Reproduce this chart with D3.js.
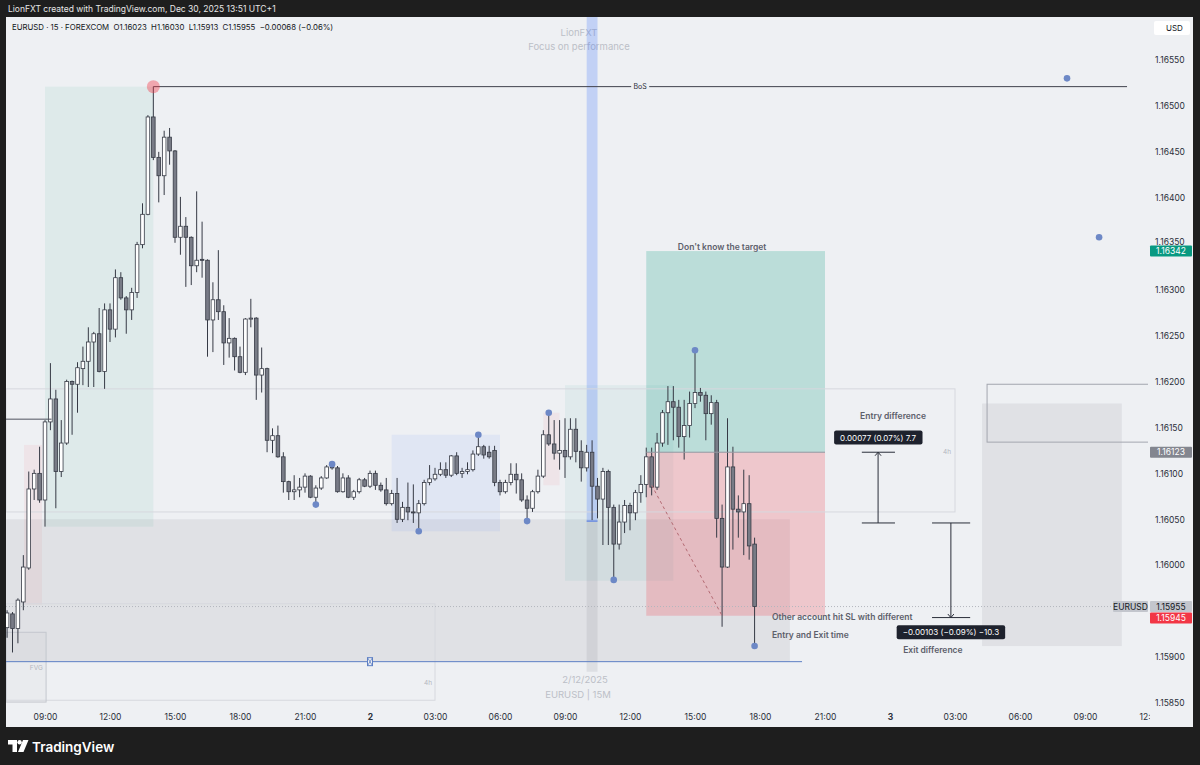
<!DOCTYPE html>
<html>
<head>
<meta charset="utf-8">
<script src="https://cdn.jsdelivr.net/npm/d3@7"></script>
<style>
  html, body { margin: 0; padding: 0; background: #1e1e1e; }
  svg { display: block; font-family: Inter, "Noto Sans", sans-serif; }
</style>
</head>
<body>
<svg id="chart" width="1200" height="765"></svg>
<script>
// EURUSD 15m, Dec 1 07:15 -> Dec 2 17:45 (UTC+1 chart time)
const firstBar = Date.UTC(2025, 11, 1, 7, 15);
const barMinutes = 15;

const opens = [1.15932,1.15947,1.15931,1.15960,1.15997,1.16083,1.16100,1.16071,1.16156,1.16181,
  1.16102,1.16133,1.16200,1.16197,1.16214,1.16222,1.16243,1.16252,1.16211,1.16278,
  1.16257,1.16313,1.16291,1.16278,1.16297,1.16349,1.16382,1.16488,1.16444,1.16424,
  1.16466,1.16451,1.16357,1.16369,1.16357,1.16326,1.16333,1.16332,1.16267,1.16289,
  1.16276,1.16242,1.16247,1.16227,1.16210,1.16268,1.16269,1.16207,1.16214,1.16136,
  1.16141,1.16118,1.16091,1.16080,1.16082,1.16085,1.16097,1.16074,1.16084,1.16095,
  1.16107,1.16106,1.16080,1.16095,1.16074,1.16080,1.16093,1.16086,1.16100,1.16087,
  1.16082,1.16067,1.16078,1.16050,1.16063,1.16058,1.16057,1.16067,1.16090,1.16094,
  1.16099,1.16104,1.16098,1.16119,1.16100,1.16102,1.16104,1.16121,1.16129,1.16123,
  1.16125,1.16090,1.16080,1.16090,1.16099,1.16093,1.16071,1.16062,1.16080,1.16097,
  1.16142,1.16132,1.16122,1.16125,1.16118,1.16148,1.16124,1.16106,1.16123,1.16086,
  1.16072,1.16102,1.16063,1.16023,1.16047,1.16065,1.16057,1.16079,1.16088,1.16118,
  1.16085,1.16133,1.16166,1.16178,1.16172,1.16140,1.16152,1.16176,1.16188,1.16185,
  1.16165,1.16177,1.16051,1.15998,1.16107,1.16061,1.16058,1.16067,1.16023];
const highs = [1.15951,1.15949,1.15964,1.16011,1.16102,1.16104,1.16129,1.16158,1.16220,1.16191,
  1.16158,1.16202,1.16201,1.16221,1.16238,1.16259,1.16254,1.16280,1.16285,1.16285,
  1.16322,1.16319,1.16293,1.16302,1.16352,1.16394,1.16490,1.16521,1.16450,1.16473,
  1.16476,1.16452,1.16401,1.16379,1.16358,1.16407,1.16374,1.16333,1.16308,1.16343,
  1.16283,1.16269,1.16248,1.16238,1.16269,1.16290,1.16270,1.16237,1.16215,1.16149,
  1.16152,1.16123,1.16092,1.16098,1.16095,1.16100,1.16098,1.16087,1.16097,1.16109,
  1.16111,1.16108,1.16100,1.16098,1.16082,1.16095,1.16095,1.16103,1.16103,1.16090,
  1.16095,1.16082,1.16095,1.16069,1.16090,1.16088,1.16071,1.16093,1.16109,1.16106,
  1.16112,1.16112,1.16120,1.16123,1.16106,1.16112,1.16125,1.16142,1.16131,1.16130,
  1.16130,1.16093,1.16093,1.16111,1.16111,1.16100,1.16076,1.16082,1.16104,1.16147,
  1.16166,1.16158,1.16158,1.16160,1.16160,1.16160,1.16136,1.16131,1.16136,1.16095,
  1.16106,1.16104,1.16066,1.16066,1.16071,1.16068,1.16082,1.16098,1.16128,1.16128,
  1.16144,1.16169,1.16195,1.16195,1.16180,1.16180,1.16189,1.16234,1.16193,1.16189,
  1.16185,1.16180,1.16066,1.16160,1.16129,1.16076,1.16104,1.16098,1.16030];
const lows = [1.15921,1.15905,1.15915,1.15951,1.15995,1.16071,1.16068,1.16042,1.16147,1.16062,
  1.16096,1.16131,1.16142,1.16166,1.16196,1.16194,1.16194,1.16210,1.16192,1.16243,
  1.16248,1.16289,1.16252,1.16267,1.16291,1.16345,1.16381,1.16441,1.16395,1.16403,
  1.16436,1.16351,1.16338,1.16303,1.16305,1.16319,1.16313,1.16227,1.16232,1.16267,
  1.16218,1.16226,1.16212,1.16209,1.16207,1.16259,1.16180,1.16188,1.16123,1.16122,
  1.16117,1.16079,1.16071,1.16071,1.16074,1.16079,1.16073,1.16066,1.16082,1.16094,
  1.16104,1.16079,1.16079,1.16073,1.16071,1.16078,1.16085,1.16084,1.16082,1.16080,
  1.16065,1.16065,1.16046,1.16047,1.16049,1.16046,1.16037,1.16065,1.16087,1.16092,
  1.16097,1.16095,1.16096,1.16098,1.16095,1.16099,1.16102,1.16119,1.16116,1.16116,
  1.16086,1.16076,1.16078,1.16087,1.16078,1.16069,1.16048,1.16058,1.16078,1.16095,
  1.16130,1.16115,1.16104,1.16095,1.16115,1.16112,1.16091,1.16102,1.16049,1.16051,
  1.16022,1.16022,1.15984,1.16017,1.16035,1.16038,1.16049,1.16068,1.16074,1.16076,
  1.16082,1.16129,1.16131,1.16136,1.16128,1.16115,1.16139,1.16171,1.16178,1.16136,
  1.16153,1.16030,1.15933,1.15997,1.16017,1.16030,1.16011,1.16006,1.15913];
const closes = [1.15948,1.15931,1.15962,1.15998,1.16083,1.16100,1.16071,1.16156,1.16181,1.16102,
  1.16133,1.16200,1.16197,1.16215,1.16222,1.16243,1.16252,1.16211,1.16278,1.16257,
  1.16313,1.16291,1.16278,1.16297,1.16349,1.16382,1.16488,1.16444,1.16424,1.16466,
  1.16451,1.16357,1.16369,1.16357,1.16326,1.16332,1.16332,1.16267,1.16289,1.16276,
  1.16242,1.16247,1.16227,1.16210,1.16268,1.16269,1.16207,1.16214,1.16136,1.16141,
  1.16118,1.16091,1.16080,1.16082,1.16085,1.16097,1.16074,1.16084,1.16095,1.16107,
  1.16106,1.16080,1.16095,1.16074,1.16080,1.16093,1.16086,1.16100,1.16087,1.16082,
  1.16067,1.16078,1.16050,1.16063,1.16058,1.16057,1.16067,1.16090,1.16094,1.16099,
  1.16104,1.16098,1.16119,1.16100,1.16102,1.16104,1.16121,1.16129,1.16120,1.16118,
  1.16090,1.16080,1.16090,1.16099,1.16093,1.16071,1.16062,1.16080,1.16097,1.16142,
  1.16132,1.16122,1.16125,1.16118,1.16148,1.16124,1.16106,1.16123,1.16086,1.16072,
  1.16102,1.16063,1.16023,1.16047,1.16065,1.16057,1.16079,1.16088,1.16118,1.16085,
  1.16133,1.16166,1.16178,1.16172,1.16140,1.16152,1.16176,1.16188,1.16185,1.16165,
  1.16177,1.16051,1.15998,1.16107,1.16061,1.16058,1.16067,1.16021,1.15955];

const priceTicks = [1.15850,1.15900,1.16000,1.16050,1.16100,1.16150,1.16200,1.16250,
  1.16300,1.16350,1.16400,1.16450,1.16500,1.16550];
// hours counted from Dec 1 00:00
const timeTicks = [9,12,15,18,21,24,27,30,33,36,39,42,45,48,51,54,57,60];

// swing markers [hour, price]
const swingDots = [[21.5,1.16066],[22.25,1.16110],[26.25,1.16037],[29,1.16142],[31.25,1.16048],
  [32.25,1.16166],[35.25,1.15984],[39,1.16234],[41.75,1.15912],[56.17,1.16530],[57.65,1.16357]];

const bosPrice = 1.16521;
const entryPrice = 1.16123, targetPrice = 1.16342, stopPrice = 1.15945;
const otherEntry = 1.16046, otherExit = 1.15943;
const hLinePrice = 1.15895;

const W = 1200, H = 765;
const plot = { left: 6, top: 17, right: 1148, bottom: 707 };
const bg = "#eef0f3";

const svg = d3.select("#chart");
const defs = svg.append("defs");
const hr = h => new Date(Date.UTC(2025, 11, 1) + h * 36e5);

const x = d3.scaleUtc().domain([hr(9), hr(57)]).range([45, 1085]);
const y = d3.scaleLinear().domain([1.15850, 1.16550]).range([703, 60]);
const xh = h => x(hr(h));

const bars = opens.map((o, i) => ({
  t: new Date(firstBar + i * barMinutes * 6e4),
  o, h: highs[i], l: lows[i], c: closes[i]
}));

// frame
svg.append("rect").attr("width", W).attr("height", H).attr("fill", "#1e1e1e");
svg.append("rect").attr("x", 6).attr("y", 17).attr("width", 1187).attr("height", 710).attr("fill", bg);

svg.append("text").attr("x", 8).attr("y", 12).attr("fill", "#e6e6e6").attr("font-size", 8.5)
  .text("LionFXT created with TradingView.com, Dec 30, 2025 13:51 UTC+1");

defs.append("clipPath").attr("id", "plotClip")
  .append("rect").attr("x", plot.left).attr("y", plot.top)
  .attr("width", plot.right - plot.left).attr("height", plot.bottom - plot.top);

const g = svg.append("g").attr("clip-path", "url(#plotClip)");

// watermark
const wm = g.append("g").attr("fill", "#bcbfc7").attr("font-size", 9.5).attr("text-anchor", "middle");
wm.append("text").attr("x", 579).attr("y", 36).text("LionFXT");
wm.append("text").attr("x", 579).attr("y", 50).text("Focus on performance");
wm.append("text").attr("x", 585).attr("y", 683).text("2/12/2025");
wm.append("text").attr("x", 578).attr("y", 698).text("EURUSD | 15M");

// filled zones [h0, h1, pTop, pBottom, fill]
const zones = [
  [9, 14, bosPrice, 1.16042, "rgba(8,153,129,0.07)"],
  [8.03, 8.86, 1.16131, 1.15957, "rgba(242,54,69,0.06)"],
  [7.2, 43.38, 1.16050, hLinePrice, "rgba(120,123,134,0.12)"],
  [25, 30, 1.16142, 1.16037, "rgba(41,98,255,0.07)"],
  [32, 32.75, 1.16166, 1.16087, "rgba(242,54,69,0.06)"],
  [33, 38, 1.16196, 1.15983, "rgba(8,153,129,0.06)"],
  [52.25, 58.7, 1.16176, 1.15912, "rgba(120,123,134,0.12)"],
  [36.75, 45, targetPrice, entryPrice, "rgba(8,153,129,0.22)"],
  [36.75, 45, entryPrice, stopPrice, "rgba(242,54,69,0.22)"],
  [34, 34.5, 1.16620, 1.16048, "rgba(41,98,255,0.22)"],
  [34, 34.5, 1.16048, 1.15884, "rgba(120,123,134,0.14)"],
  [7.2, 9.05, 1.15927, 1.15851, "rgba(120,123,134,0.04)"]
];
g.append("g").selectAll("rect").data(zones).join("rect")
  .attr("x", d => xh(d[0])).attr("width", d => xh(d[1]) - xh(d[0]))
  .attr("y", d => y(d[2])).attr("height", d => y(d[3]) - y(d[2]))
  .attr("fill", d => d[4]);

// outlined boxes
const boxes = [
  [7.2, 27.0, 1.15958, 1.15853, "#d6d8de"],
  [7.2, 51.0, 1.16192, 1.16058, "#d6d8de"],
  [7.2, 9.05, 1.15927, 1.15851, "#c4c7ce"],
  [52.48, 62, 1.16197, 1.16134, "#a3a6af"]
];
g.append("g").selectAll("rect").data(boxes).join("rect")
  .attr("x", d => xh(d[0])).attr("width", d => xh(d[1]) - xh(d[0]))
  .attr("y", d => y(d[2])).attr("height", d => y(d[3]) - y(d[2]))
  .attr("fill", "none").attr("stroke", d => d[4]).attr("stroke-width", 1);

const small = g.append("g").attr("fill", "#b4b7bf").attr("font-size", 6.5).attr("text-anchor", "middle");
small.append("text").attr("x", xh(8.6)).attr("y", y(1.15889) + 2.5).text("FVG");
small.append("text").attr("x", xh(26.68)).attr("y", y(1.15872) + 2.5).text("4h");
small.append("text").attr("x", xh(50.63)).attr("y", y(1.16124) + 2.5).text("4h");

// current price line
g.append("line").attr("x1", plot.left).attr("x2", plot.right)
  .attr("y1", y(closes[closes.length - 1])).attr("y2", y(closes[closes.length - 1]))
  .attr("stroke", "#b3b6bd").attr("stroke-dasharray", "1,2");

// candles
const bw = 3.6;
const cg = g.append("g");
cg.selectAll("line").data(bars).join("line")
  .attr("x1", d => x(d.t)).attr("x2", d => x(d.t))
  .attr("y1", d => y(d.h)).attr("y2", d => y(d.l))
  .attr("stroke", "#363a45").attr("stroke-width", 1);
cg.selectAll("rect").data(bars).join("rect")
  .attr("x", d => x(d.t) - bw / 2).attr("width", bw)
  .attr("y", d => y(Math.max(d.o, d.c)))
  .attr("height", d => Math.max(1, Math.abs(y(d.o) - y(d.c))))
  .attr("fill", d => d.c >= d.o ? "#ffffff" : "#787b86")
  .attr("stroke", "#363a45").attr("stroke-width", 0.8);

// lines
const lines = g.append("g");
lines.append("line").attr("x1", xh(7.2)).attr("x2", xh(9.3))
  .attr("y1", y(1.16159)).attr("y2", y(1.16159)).attr("stroke", "#50535e");
lines.append("line").attr("x1", xh(14)).attr("x2", xh(58.94))
  .attr("y1", y(bosPrice)).attr("y2", y(bosPrice)).attr("stroke", "#3f424c");
lines.append("line").attr("x1", xh(7.2)).attr("x2", xh(43.94))
  .attr("y1", y(hLinePrice)).attr("y2", y(hLinePrice)).attr("stroke", "#5d7fc4");
lines.append("line").attr("x1", xh(36.75)).attr("x2", xh(45))
  .attr("y1", y(entryPrice)).attr("y2", y(entryPrice)).attr("stroke", "#9598a1");
lines.append("line").attr("x1", xh(37)).attr("x2", xh(40.25))
  .attr("y1", y(1.16087)).attr("y2", y(stopPrice))
  .attr("stroke", "#b46a73").attr("stroke-dasharray", "3,3");
lines.append("line").attr("x1", xh(34)).attr("x2", xh(34.5))
  .attr("y1", y(1.16048)).attr("y2", y(1.16048)).attr("stroke", "#6f8fe0").attr("stroke-width", 1.5);

// handle on the blue line
const hx = xh(24), hy = y(hLinePrice);
lines.append("rect").attr("x", hx - 2.5).attr("y", hy - 4).attr("width", 5).attr("height", 8)
  .attr("fill", bg).attr("stroke", "#5d7fc4");
lines.append("path").attr("d", `M${hx - 2.5},${hy - 4}L${hx + 2.5},${hy + 4}M${hx + 2.5},${hy - 4}L${hx - 2.5},${hy + 4}`)
  .attr("stroke", "#5d7fc4").attr("stroke-width", 0.8);

// BoS label
const bosX = (xh(14) + xh(58.94)) / 2;
lines.append("rect").attr("x", bosX - 9).attr("y", y(bosPrice) - 5).attr("width", 18).attr("height", 10).attr("fill", bg);
lines.append("text").attr("x", bosX).attr("y", y(bosPrice) + 2.5).attr("text-anchor", "middle")
  .attr("font-size", 7).attr("fill", "#2a2e39").text("BoS");
lines.append("circle").attr("cx", xh(14)).attr("cy", y(bosPrice)).attr("r", 6.5)
  .attr("fill", "rgba(242,54,69,0.4)");

// swing dots
g.append("g").selectAll("circle").data(swingDots).join("circle")
  .attr("cx", d => xh(d[0])).attr("cy", d => y(d[1])).attr("r", 3.3)
  .attr("fill", "#6d88c6");

// measurements
function measure(h, h0, h1, pFrom, pTo, up) {
  const m = g.append("g").attr("stroke", "#2a2e39").attr("stroke-width", 1).attr("fill", "none");
  m.append("line").attr("x1", xh(h0)).attr("x2", xh(h1)).attr("y1", y(pFrom)).attr("y2", y(pFrom));
  m.append("line").attr("x1", xh(h0)).attr("x2", xh(h1)).attr("y1", y(pTo)).attr("y2", y(pTo));
  m.append("line").attr("x1", xh(h)).attr("x2", xh(h)).attr("y1", y(pFrom)).attr("y2", y(pTo));
  const tipY = up ? y(Math.max(pFrom, pTo)) : y(Math.min(pFrom, pTo));
  const s = up ? 3.5 : -3.5;
  m.append("path").attr("d", `M${xh(h) - 3},${tipY + s}L${xh(h)},${tipY}L${xh(h) + 3},${tipY + s}`);
}
measure(47.45, 46.7, 48.23, otherEntry, entryPrice, true);
measure(50.81, 49.94, 51.7, otherEntry, otherExit, false);

function tooltip(h, p, label) {
  const t = g.append("g");
  const txt = t.append("text").attr("x", xh(h)).attr("y", y(p) + 3).attr("text-anchor", "middle")
    .attr("font-size", 8).attr("fill", "#ffffff").text(label);
  const bb = txt.node().getBBox();
  t.insert("rect", "text").attr("x", bb.x - 6).attr("y", y(p) - 7).attr("width", bb.width + 12).attr("height", 14)
    .attr("rx", 2).attr("fill", "#1e222d");
}
tooltip(47.45, 1.16139, `${(entryPrice - otherEntry).toFixed(5)} (0.07%) 7.7`);
tooltip(50.81, 1.15927, `\u2212${(otherEntry - otherExit).toFixed(5)} (\u22120.09%) \u221210.3`);

const notes = g.append("g").attr("font-size", 8.5).attr("font-weight", 600).attr("fill", "#5d606b");
notes.append("text").attr("x", xh(40.25)).attr("y", y(1.16346) + 3).attr("text-anchor", "middle").text("Don't know the target");
notes.append("text").attr("x", xh(48.14)).attr("y", y(1.16162) + 3).attr("text-anchor", "middle").text("Entry difference");
notes.append("text").attr("x", xh(49.98)).attr("y", y(1.15908) + 3).attr("text-anchor", "middle").text("Exit difference");
notes.append("text").attr("x", xh(42.55)).attr("y", y(1.15944) + 3).text("Other account hit SL with different");
notes.append("text").attr("x", xh(42.55)).attr("y", y(1.15924) + 3).text("Entry and Exit time");

// legend
const last = bars[bars.length - 1];
svg.append("text").attr("x", 12).attr("y", 30).attr("font-size", 7.8).attr("fill", "#131722")
  .attr("xml:space", "preserve").style("white-space", "pre")
  .text(`EURUSD \u00b7 15 \u00b7 FOREXCOM  O${last.o.toFixed(5)}  H${last.h.toFixed(5)}  L${last.l.toFixed(5)}  C${last.c.toFixed(5)}  \u22120.00068 (\u22120.06%)`);

// price axis
const ya = svg.append("g").attr("transform", `translate(1152,0)`)
  .call(d3.axisRight(y).tickValues(priceTicks).tickFormat(d3.format(".5f")).tickSize(0).tickPadding(3));
ya.select(".domain").remove();
ya.selectAll("text").attr("font-size", 8.5).attr("fill", "#2a2e39").attr("font-family", "Inter, sans-serif")
  .attr("dy", d => d === 1.16350 ? "0.1em" : "0.32em");

svg.append("rect").attr("x", 1154).attr("y", 21).attr("width", 36).attr("height", 14).attr("rx", 2).attr("fill", "#ffffff");
svg.append("text").attr("x", 1166).attr("y", 31).attr("font-size", 8).attr("fill", "#131722").text("USD");

function priceBox(yc, label, fill, color, xLeft, w) {
  svg.append("rect").attr("x", xLeft).attr("y", yc - 5.5).attr("width", w).attr("height", 11).attr("fill", fill).attr("rx", 1);
  svg.append("text").attr("x", xLeft + w / 2).attr("y", yc + 3).attr("text-anchor", "middle")
    .attr("font-size", 8.5).attr("fill", color).text(label);
}
priceBox(y(targetPrice), targetPrice.toFixed(5), "#089981", "#ffffff", 1150, 42);
priceBox(y(entryPrice), entryPrice.toFixed(5), "#83868f", "#ffffff", 1150, 42);
priceBox(y(last.c), last.c.toFixed(5), "#c3c6cd", "#131722", 1150, 42);
priceBox(y(last.c), "EURUSD", "#c3c6cd", "#131722", 1113, 35);
priceBox(y(last.c) + 11.5, stopPrice.toFixed(5), "#f23645", "#ffffff", 1150, 42);

// time axis
defs.append("clipPath").attr("id", "timeClip")
  .append("rect").attr("x", plot.left).attr("y", 705).attr("width", plot.right - plot.left + 2).attr("height", 22);
const xa = svg.append("g").attr("clip-path", "url(#timeClip)")
  .append("g").attr("transform", "translate(0,712)")
  .call(d3.axisBottom(x).tickValues(timeTicks.map(hr)).tickSize(0).tickPadding(2)
    .tickFormat(d => d.getUTCHours() === 0 ? String(d.getUTCDate()) : d3.utcFormat("%H:%M")(d)));
xa.select(".domain").remove();
xa.selectAll("text").attr("font-size", 8.5).attr("fill", "#2a2e39").attr("font-family", "Inter, sans-serif")
  .attr("font-weight", d => d.getUTCHours() === 0 ? 700 : 400);

// footer logo
const logo = svg.append("g").attr("fill", "#ffffff");
logo.append("path").attr("d", "M8,740h9v12h-4.5v-7.5H8z");
logo.append("circle").attr("cx", 19.6).attr("cy", 742.3).attr("r", 2.2);
logo.append("path").attr("d", "M23,740h5.5l-5,12h-5.5z");
logo.append("text").attr("x", 32).attr("y", 751.5).attr("font-size", 13.5).attr("font-weight", 600).text("TradingView");
</script>
</body>
</html>
